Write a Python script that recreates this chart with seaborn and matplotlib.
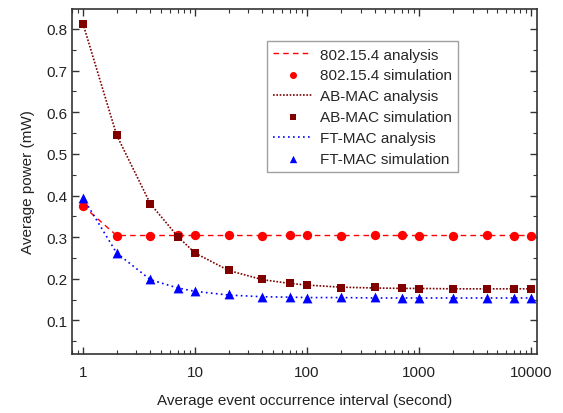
import matplotlib
matplotlib.use("Agg")
import matplotlib.pyplot as plt
import seaborn as sns
import pandas as pd
from matplotlib.ticker import MultipleLocator, LogLocator, NullFormatter, FixedLocator, FixedFormatter

# === DATA ===
interval = [1, 2, 4, 7, 10, 20, 40, 70, 100, 200, 400, 700, 1000, 2000, 4000, 7000, 10000]

ieee_sim = [0.375, 0.303, 0.304, 0.305, 0.306, 0.305, 0.303, 0.306, 0.305, 0.303, 0.305, 0.306, 0.302, 0.304, 0.305, 0.304, 0.304]
ieee_ana = [0.375, 0.304, 0.304, 0.304, 0.304, 0.304, 0.304, 0.304, 0.304, 0.304, 0.304, 0.304, 0.304, 0.304, 0.304, 0.304, 0.304]

ab_sim = [0.813, 0.545, 0.380, 0.300, 0.263, 0.221, 0.199, 0.190, 0.185, 0.179, 0.180, 0.177, 0.176, 0.176, 0.175, 0.176, 0.175]
ab_ana = [0.813, 0.545, 0.380, 0.302, 0.262, 0.220, 0.198, 0.189, 0.185, 0.180, 0.178, 0.177, 0.177, 0.176, 0.176, 0.176, 0.176]

ft_sim = [0.395, 0.262, 0.200, 0.178, 0.170, 0.163, 0.157, 0.157, 0.155, 0.156, 0.156, 0.153, 0.155, 0.154, 0.153, 0.154, 0.153]
ft_ana = [0.395, 0.262, 0.198, 0.178, 0.170, 0.161, 0.157, 0.156, 0.155, 0.155, 0.154, 0.154, 0.154, 0.154, 0.154, 0.154, 0.154]

df = pd.DataFrame({"x": interval,
                   "ieee_sim": ieee_sim, "ieee_ana": ieee_ana,
                   "ab_sim": ab_sim, "ab_ana": ab_ana,
                   "ft_sim": ft_sim, "ft_ana": ft_ana})

# === PLOT ===
sns.set_style("white")
plt.rcParams["font.family"] = ["Liberation Sans", "DejaVu Sans"]

fig = plt.figure(figsize=(5.63, 4.14), dpi=100)
ax = fig.add_axes([0.128, 0.143, 0.826, 0.833])

red = "#ff0000"
maroon = "#800000"
blue = "#0000ff"

sns.lineplot(data=df, x="x", y="ieee_ana", ax=ax, color=red, linestyle=(0, (4, 3)),
             linewidth=1.0, label="802.15.4 analysis")
sns.scatterplot(data=df, x="x", y="ieee_sim", ax=ax, color=red, marker="o", s=45,
                edgecolor=red, linewidth=0, label="802.15.4 simulation", zorder=3)
sns.lineplot(data=df, x="x", y="ab_ana", ax=ax, color=maroon, linestyle=(0, (1, 1)),
             linewidth=1.2, label="AB-MAC analysis")
sns.scatterplot(data=df, x="x", y="ab_sim", ax=ax, color=maroon, marker="s", s=38,
                edgecolor=maroon, linewidth=0, label="AB-MAC simulation", zorder=3)
sns.lineplot(data=df, x="x", y="ft_ana", ax=ax, color=blue, linestyle=(0, (1, 2)),
             linewidth=1.2, label="FT-MAC analysis")
sns.scatterplot(data=df, x="x", y="ft_sim", ax=ax, color=blue, marker="^", s=50,
                edgecolor=blue, linewidth=0, label="FT-MAC simulation", zorder=3)

ax.set_xscale("log")
ax.set_xlim(0.8, 11300)
ax.set_ylim(0.02, 0.848)

ax.xaxis.set_major_locator(FixedLocator([1, 10, 100, 1000, 10000]))
ax.xaxis.set_major_formatter(FixedFormatter(["1", "10", "100", "1000", "10000"]))
ax.xaxis.set_minor_locator(LogLocator(base=10, subs=range(2, 10)))
ax.xaxis.set_minor_formatter(NullFormatter())
ax.yaxis.set_major_locator(MultipleLocator(0.1))
ax.yaxis.set_minor_locator(MultipleLocator(0.05))

ax.tick_params(axis="both", which="both", direction="in", top=True, right=True,
               bottom=True, left=True,
               colors="#333333", labelcolor="#222222", labelsize=11)
ax.tick_params(which="major", length=5, width=1.0)
ax.tick_params(which="minor", length=3, width=0.8)
ax.tick_params(axis="x", pad=8)

for sp in ax.spines.values():
    sp.set_color("#333333")
    sp.set_linewidth(1.2)

ax.set_xlabel("Average event occurrence interval (second)", fontsize=11, color="#222222", labelpad=10)
ax.set_ylabel("Average power (mW)", fontsize=11, color="#222222", labelpad=8)

leg = ax.legend(loc="upper left", bbox_to_anchor=(0.402, 0.928), fontsize=11,
                frameon=True, fancybox=False, edgecolor="#888888", markerscale=0.75,
                handlelength=2.6, handletextpad=0.5, borderpad=0.4, labelspacing=0.45)
leg.get_frame().set_linewidth(1.0)

fig.savefig("out.png", dpi=100)
